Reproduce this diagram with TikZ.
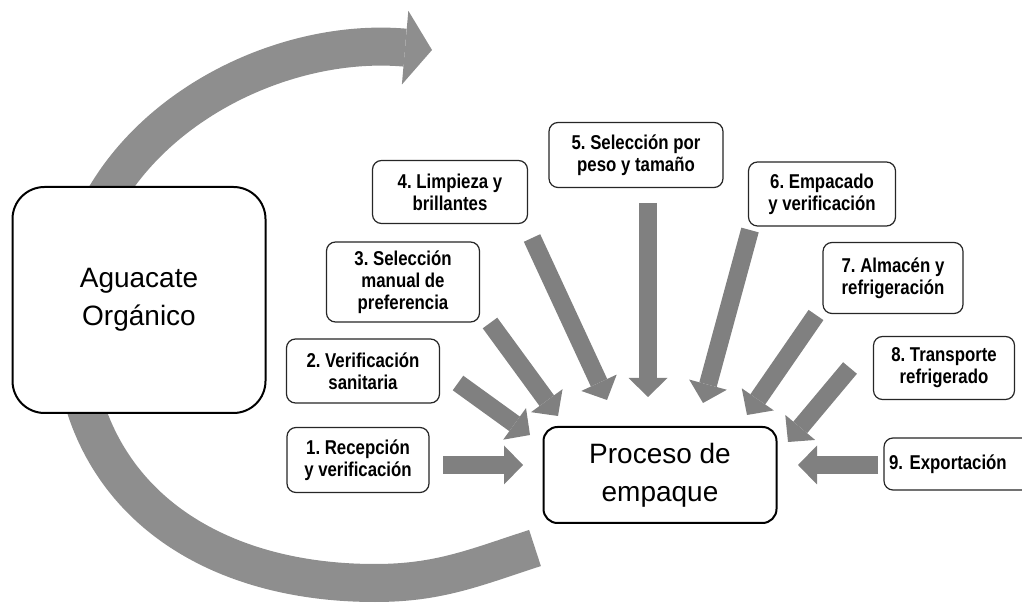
\documentclass[tikz,border=0pt]{standalone}
\usepackage{fontspec}
\setmainfont{Liberation Sans}
\newfontfamily\narrowfont[FakeStretch=0.84]{Liberation Sans}
\usetikzlibrary{positioning}
\usetikzlibrary{arrows.meta}
\usetikzlibrary{backgrounds}
\definecolor{flowgrey}{RGB}{128,128,128}
\definecolor{cyclegrey}{RGB}{142,142,142}
\tikzset{
	stage/.style={draw=black!85, line width=1.2pt, rectangle, rounded corners=9pt, fill=white, align=center, inner sep=3pt, minimum height=64pt, font={\narrowfont\bfseries\frenchspacing\fontsize{20}{22}\selectfont}},
	core/.style={draw, line width=2pt, rectangle, fill=white, align=center, font={\fontsize{28}{38}\selectfont}},
	% grey block arrows into the packing box
	flow/.style={flowgrey, line width=18pt, -{Triangle[width=39pt, length=19pt, line width=0pt]}},
}

\begin{document}
\begin{tikzpicture}[x=1pt, y=1pt, node distance=90pt]
			\useasboundingbox (0,0) rectangle (1022,610);
			
			\node (organico) [core, minimum width=253pt, minimum height=226pt, rounded corners=32pt] at (139,310) {Aguacate\\Orgánico};
			\node (proceso) [core, minimum width=233pt, minimum height=96pt, rounded corners=14pt] at (660,135) {Proceso de\\empaque};
			
			\node (b1) [stage, left of=proceso, xshift=-212pt, yshift=15pt, minimum width=142pt, minimum height=65pt] {1. Recepción\\y verificación};
			\node (b2) [stage, above of=b1, xshift=5pt, yshift=-1pt, minimum width=153pt] {2. Verificación\\sanitaria};
			\node (b3) [stage, above of=b2, xshift=40pt, yshift=-1pt, minimum width=153pt, minimum height=80pt] {3. Selección\\manual de\\preferencia};
			\node (b4) [stage, above of=b3, xshift=47pt, minimum width=155pt, minimum height=63pt] {4. Limpieza y\\brillantes};
			\node (b5) [stage, right of=b4, xshift=96pt, yshift=37pt, minimum width=174pt, minimum height=65pt] {5. Selección por\\peso y tamaño};
			\node (b6) [stage, right of=b5, xshift=96pt, yshift=-39pt, minimum width=147pt] {6. Empacado\\y verificación};
			\node (b7) [stage, below of=b6, xshift=71pt, yshift=6pt, minimum width=140pt, minimum height=71pt] {7. Almacén y\\refrigeración};
			\node (b8) [stage, below of=b7, xshift=51pt, minimum width=141pt, minimum height=63pt] {8. Transporte\\refrigerado};
			\node (b9) [stage, below of=b8, xshift=15pt, yshift=-6pt, minimum width=150pt, minimum height=52pt, text width=140pt, align=left, inner sep=5pt] {9. Exportación};
			
			% tails and tips of the block arrows
			\coordinate (s1) at (443,145); \coordinate (t1) at (523,145);
			\coordinate (s2) at (458,227); \coordinate (t2) at (530,175);
			\coordinate (s3) at (490,287); \coordinate (t3) at (558,194);
			\coordinate (s4) at (532,372); \coordinate (t4) at (607,210);
			\coordinate (s5) at (648,407); \coordinate (t5) at (648,213);
			\coordinate (s6) at (750,380); \coordinate (t6) at (703,207);
			\coordinate (s7) at (816,295); \coordinate (t7) at (747,195);
			\coordinate (s8) at (850,242); \coordinate (t8) at (788,168);
			\coordinate (s9) at (878,145); \coordinate (t9) at (798,145);
			
			\begin{scope}[flow]
				\draw (s1) -- (t1);
				\draw (s2) -- (t2);
				\draw (s3) -- (t3);
				\draw (s4) -- (t4);
				\draw (s5) -- (t5);
				\draw (s6) -- (t6);
				\draw (s7) -- (t7);
				\draw (s8) -- (t8);
				\draw (s9) -- (t9);
			\end{scope}
			
			% the big loop behind the avocado box
			\coordinate (loopstart) at (535,62);
			\coordinate (loopend) at (432,560);
			\begin{scope}[on background layer]
				\draw [cyclegrey, line width=38pt, -{Triangle[width=74pt, length=27pt, line width=0pt]}] (loopstart) to[out=198, in=0] (375,27) to[out=180, in=270, looseness=1.1] (72,292) to[out=90, in=175] (loopend);
			\end{scope}
		\end{tikzpicture}
\end{document}
